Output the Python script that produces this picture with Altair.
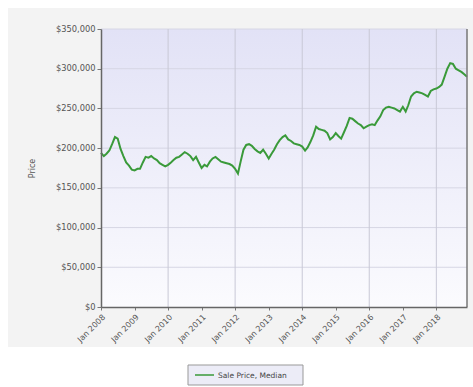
import altair as alt
import pandas as pd

# Monthly median sale price, Jan 2008 - Dec 2018 (in $1000s)
prices_k = [
    194, 190, 193, 197, 205, 214, 212, 199, 190, 182, 178, 173,
    172, 174, 174, 182, 189, 188, 190, 187, 185, 181, 179, 177,
    179, 182, 185, 188, 189, 192, 195, 193, 190, 185, 189, 182,
    175, 179, 177, 183, 187, 189, 186, 183, 182, 181, 180, 178,
    174, 168, 183, 198, 204, 205, 203, 199, 196, 194, 198, 193,
    187, 193, 198, 205, 210, 214, 216, 211, 209, 206, 205, 204,
    202, 197, 201, 208, 216, 227, 224, 223, 222, 219, 211, 214,
    219, 215, 212, 220, 228, 238, 237, 234, 231, 229, 225, 227,
    229, 230, 229, 235, 240, 248, 251, 252, 251, 250, 248, 246,
    252, 246, 254, 265, 269, 271, 270, 269, 267, 265, 272, 274,
    275, 277, 280, 290, 300, 307, 306, 300, 298, 296, 293, 290,
]
months = pd.date_range("2008-01-01", periods=len(prices_k), freq="MS")
series_name = "Sale Price, Median"
tick_years = [f"{y}-01-01" for y in range(2008, 2019)]
vgrid_years = [f"{y}-01-01" for y in range(2010, 2019, 2)]
hgrid_values = [50000, 100000, 150000, 200000, 250000, 300000, 350000]
y_ticks = [0, 50000, 100000, 150000, 200000, 250000, 300000, 350000]

df = pd.DataFrame({
    "month": months,
    "price": [v * 1000 for v in prices_k],
})

W, H = 366, 278
FONT = "DejaVu Sans"
LINE_COLOR = "#3a9a3a"
x_scale = alt.Scale(domain=["2008-01-01", "2018-12-01"])
y_scale = alt.Scale(domain=[0, 350000])

x_axis = alt.Axis(
    values=tick_years, format="Jan %Y", labelAngle=-45, labelAlign="right",
    labelBaseline="top", labelFontSize=8, labelColor="#555555",
    labelFont=FONT, grid=False, ticks=True, tickColor="#777777", tickSize=3,
    domainColor="#666666", domainWidth=1.5, title=None, labelPadding=3,
    zindex=1,
)
y_axis = alt.Axis(
    values=y_ticks,
    format="$,.0f", labelFontSize=8.3, labelColor="#555555", labelFont=FONT,
    grid=False, tickColor="#777777", tickSize=4, labelPadding=2,
    domainColor="#666666", domainWidth=1.5, title="Price", titleFontSize=8,
    titleFontWeight="normal", titleColor="#555555", titleFont=FONT,
    titlePadding=19, zindex=1,
)

one = pd.DataFrame({"a": [0]})
legend_df = pd.DataFrame({"label": [series_name]})

panel = alt.Chart(one).mark_rect(color="#f3f3f3", clip=False).encode(
    x=alt.value(-93), x2=alt.value(W + 6), y=alt.value(-21), y2=alt.value(H + 40)
)

grad = alt.Chart(one).mark_rect(
    color=alt.Gradient(
        gradient="linear",
        stops=[alt.GradientStop(color="#e2e2f6", offset=0),
               alt.GradientStop(color="#fbfbfe", offset=1)],
        x1=0, x2=0, y1=0, y2=1,
    )
).encode(x=alt.value(0), x2=alt.value(W), y=alt.value(0), y2=alt.value(H))

hgrid = alt.Chart(pd.DataFrame({"price": hgrid_values})).mark_rule(
    color="#d6d6e4", strokeWidth=1
).encode(y=alt.Y("price:Q", scale=y_scale, axis=y_axis))

vgrid = alt.Chart(pd.DataFrame({"month": vgrid_years})).mark_rule(
    color="#c8c8d6", strokeWidth=1
).encode(x=alt.X("month:T", scale=x_scale, axis=x_axis))

right_border = alt.Chart(one).mark_rule(color="#777777", strokeWidth=1.5).encode(
    x=alt.value(W), y=alt.value(0), y2=alt.value(H)
)

line = alt.Chart(df).mark_line(strokeWidth=2, color=LINE_COLOR).encode(
    x=alt.X("month:T", scale=x_scale, axis=x_axis),
    y=alt.Y("price:Q", scale=y_scale, axis=y_axis),
)

# legend box
LX, LY = 87, 336
leg_box = alt.Chart(one).mark_rect(
    fill="#ececf7", stroke="#999999", strokeWidth=1, clip=False
).encode(x=alt.value(LX), x2=alt.value(LX + 115), y=alt.value(LY), y2=alt.value(LY + 20))
leg_sym = alt.Chart(one).mark_rule(color=LINE_COLOR, strokeWidth=1.5, clip=False).encode(
    x=alt.value(LX + 7), x2=alt.value(LX + 26), y=alt.value(LY + 10)
)
leg_txt = alt.Chart(legend_df).mark_text(
    align="left", baseline="middle", font=FONT, fontSize=7.5, color="#444444", clip=False
).encode(x=alt.value(LX + 30), y=alt.value(LY + 10.5), text="label:N")

chart = alt.layer(
    panel, grad, hgrid, vgrid, line, right_border, leg_box, leg_sym, leg_txt
).properties(
    width=W, height=H,
    autosize=alt.AutoSizeParams(type="none"),
    padding={"left": 101, "top": 29, "right": 6, "bottom": 80},
    background="white",
).configure_view(stroke=None)

chart.save("out.html", embed_options={"renderer": "svg", "actions": False})
